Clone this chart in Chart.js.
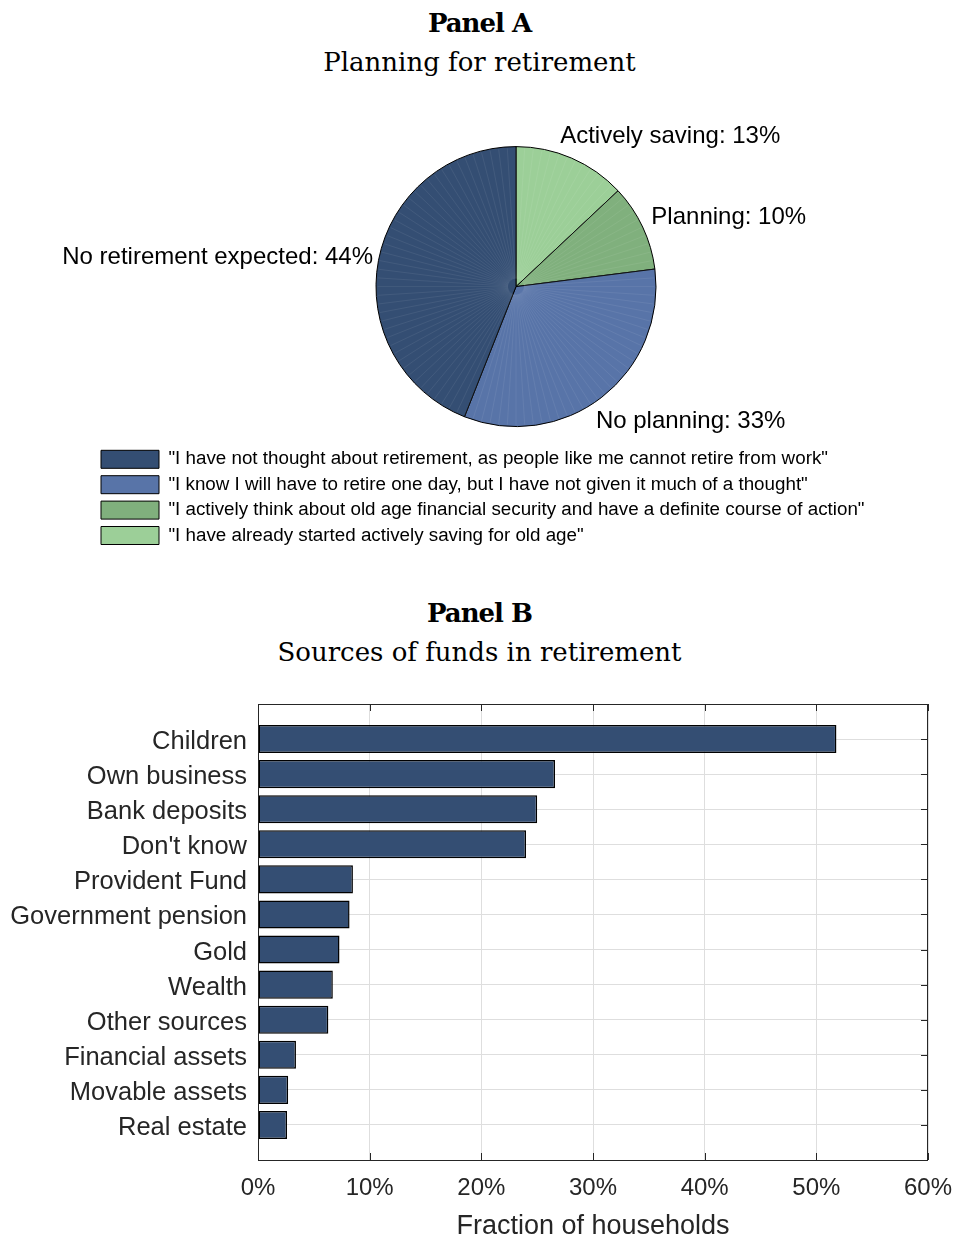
<!DOCTYPE html>
<html>
<head>
<meta charset="utf-8">
<title>Retirement planning and sources of funds</title>
<script src="https://cdn.jsdelivr.net/npm/chart.js@4.4.1/dist/chart.umd.min.js"></script>
<style>
  html, body { margin: 0; padding: 0; background: #fff; }
  body { width: 955px; height: 1240px; position: relative; overflow: hidden; }
  .hd {
    position: absolute; left: 0; width: 959px; text-align: center;
    font-family: "DejaVu Serif", serif; font-size: 26px; line-height: 30px;
    color: #000; white-space: nowrap;
  }
  .hd.b { font-weight: bold; letter-spacing: -1px; }
  #pieBox { position: absolute; left: 0; top: 85px; width: 955px; height: 485px; }
  #barBox { position: absolute; left: 0; top: 675px; width: 955px; height: 565px; }
</style>
</head>
<body>
<div class="hd b" style="top:8px">Panel A</div>
<div class="hd" style="top:47px">Planning for retirement</div>
<div id="pieBox"><canvas id="pie" width="955" height="485"></canvas></div>

<div class="hd b" style="top:598px">Panel B</div>
<div class="hd" style="top:637px">Sources of funds in retirement</div>
<div id="barBox"><canvas id="bar" width="955" height="565"></canvas></div>

<script>
// ---- Panel A: planning for retirement (clockwise from 12 o'clock) ----
const planNames = ['Actively saving', 'Planning', 'No planning', 'No retirement expected'];
const planShares = [13, 10, 33, 44];
const planStatements = [
  '"I have already started actively saving for old age"',
  '"I actively think about old age financial security and have a definite course of action"',
  '"I know I will have to retire one day, but I have not given it much of a thought"',
  '"I have not thought about retirement, as people like me cannot retire from work"'
];
const planColors = ['#9ccf98', '#80b07d', '#5874a8', '#344e73'];

// ---- Panel B: sources of funds in retirement (top to bottom) ----
const sources = ['Children', 'Own business', 'Bank deposits', "Don't know", 'Provident Fund',
  'Government pension', 'Gold', 'Wealth', 'Other sources', 'Financial assets',
  'Movable assets', 'Real estate'];
const sourceShares = [51.8, 26.6, 25.0, 24.0, 8.5, 8.2, 7.3, 6.7, 6.3, 3.4, 2.7, 2.6];
const shareTicks = [0, 10, 20, 30, 40, 50, 60];

// label placement tweaks around each slice's outer anchor point
const sliceLabelNudge = [[-17, -2.5], [-4, 3], [-14.5, 19.8], [8.3, 6.7]];

Chart.defaults.font.family = '"Liberation Sans", Arial, Helvetica, sans-serif';
Chart.defaults.color = '#262626';

// faint radial shading across the pie
const pieRays = {
  id: 'pieRays',
  afterDatasetsDraw(chart) {
    const arc = chart.getDatasetMeta(0).data[0];
    if (!arc) return;
    const { x, y, outerRadius } = arc.getProps(['x', 'y', 'outerRadius'], true);
    const ctx = chart.ctx;
    ctx.save();
    ctx.strokeStyle = 'rgba(255,255,255,0.12)';
    ctx.lineWidth = 0.6;
    ctx.beginPath();
    for (let a = 0; a < 360; a += 3.6) {
      const t = a * Math.PI / 180;
      ctx.moveTo(x + Math.cos(t) * 8, y + Math.sin(t) * 8);
      ctx.lineTo(x + Math.cos(t) * (outerRadius - 1.5), y + Math.sin(t) * (outerRadius - 1.5));
    }
    ctx.stroke();
    ctx.restore();
  }
};

// "Name: NN%" text beside each slice
const sliceLabels = {
  id: 'sliceLabels',
  afterDatasetsDraw(chart) {
    const ctx = chart.ctx;
    const arcs = chart.getDatasetMeta(0).data;
    ctx.save();
    ctx.font = '24px "Liberation Sans", Arial, sans-serif';
    ctx.fillStyle = '#000';
    ctx.textBaseline = 'alphabetic';
    arcs.forEach((arc, i) => {
      const { x, y, startAngle, endAngle, outerRadius } =
        arc.getProps(['x', 'y', 'startAngle', 'endAngle', 'outerRadius'], true);
      const mid = (startAngle + endAngle) / 2;
      const r = outerRadius * 1.1;
      const ax = x + Math.cos(mid) * r;
      const ay = y + Math.sin(mid) * r;
      const n = sliceLabelNudge[i];
      ctx.textAlign = Math.cos(mid) >= 0 ? 'left' : 'right';
      ctx.fillText(planNames[i] + ': ' + planShares[i] + '%', ax + n[0], ay + n[1]);
    });
    ctx.restore();
  }
};

new Chart(document.getElementById('pie'), {
  type: 'pie',
  data: {
    labels: planStatements,
    datasets: [{
      data: planShares,
      backgroundColor: planColors,
      borderColor: '#000',
      borderWidth: 1,
      radius: 140
    }]
  },
  options: {
    responsive: false,
    animation: false,
    events: [],
    layout: { padding: { left: 94.4, right: 17.4, top: 44.9, bottom: 15.1 } },
    plugins: {
      tooltip: { enabled: false },
      legend: {
        position: 'bottom',
        align: 'start',
        reverse: true,
        labels: {
          boxWidth: 58,
          boxHeight: 18,
          padding: 6.6,
          color: '#000',
          font: { size: 18.8 }
        }
      }
    }
  },
  plugins: [pieRays, sliceLabels]
});

// inward tick marks (under the bars) and the surrounding box (over them)
const axisTicks = {
  id: 'axisTicks',
  beforeDatasetsDraw(chart) {
    const { ctx, chartArea: a, scales: { x, y } } = chart;
    const L = 7;
    ctx.save();
    ctx.strokeStyle = '#262626';
    ctx.lineWidth = 1;
    ctx.beginPath();
    x.ticks.forEach(t => {
      const px = Math.round(x.getPixelForValue(t.value)) + 0.5;
      ctx.moveTo(px, a.top); ctx.lineTo(px, a.top + L);
      ctx.moveTo(px, a.bottom); ctx.lineTo(px, a.bottom - L);
    });
    y.ticks.forEach(t => {
      const py = Math.round(y.getPixelForValue(t.value)) + 0.5;
      ctx.moveTo(a.left, py); ctx.lineTo(a.left + L, py);
      ctx.moveTo(a.right, py); ctx.lineTo(a.right - L, py);
    });
    ctx.stroke();
    ctx.restore();
  },
  afterDatasetsDraw(chart) {
    const { ctx, chartArea: a } = chart;
    ctx.save();
    ctx.strokeStyle = '#262626';
    ctx.lineWidth = 1;
    ctx.strokeRect(Math.round(a.left) + 0.5, Math.round(a.top) + 0.5,
      Math.round(a.right - a.left) - 1, Math.round(a.bottom - a.top));
    ctx.restore();
  }
};

new Chart(document.getElementById('bar'), {
  type: 'bar',
  data: {
    datasets: [{
      data: sourceShares.map((v, i) => ({ x: v, y: i + 1 })),
      backgroundColor: '#344e73',
      borderColor: '#000',
      borderWidth: 1.5,
      borderSkipped: false,
      barPercentage: 0.8,
      categoryPercentage: 1
    }]
  },
  options: {
    indexAxis: 'y',
    responsive: false,
    animation: false,
    events: [],
    layout: { padding: { left: 4, right: 27, top: 29, bottom: 0 } },
    plugins: { legend: { display: false }, tooltip: { enabled: false } },
    scales: {
      x: {
        type: 'linear',
        position: 'bottom',
        min: shareTicks[0],
        max: shareTicks[shareTicks.length - 1],
        afterBuildTicks: s => { s.ticks = shareTicks.map(v => ({ value: v })); },
        afterFit: s => { s.height = 80; s.paddingLeft = 0; s.paddingRight = 0; },
        ticks: {
          callback: v => v + '%',
          font: { size: 24 },
          color: '#262626',
          padding: 14,
          maxRotation: 0
        },
        grid: { color: '#dedede', drawTicks: false, offset: false },
        border: { display: false },
        title: {
          display: true,
          text: 'Fraction of households',
          font: { size: 27, lineHeight: 1 },
          color: '#262626',
          padding: { top: 0, bottom: 0 }
        }
      },
      y: {
        type: 'linear',
        reverse: true,
        offset: false,
        min: 0,
        max: sources.length + 1,
        afterBuildTicks: s => { s.ticks = sources.map((_, i) => ({ value: i + 1 })); },
        afterFit: s => { s.width = 254; s.paddingTop = 0; s.paddingBottom = 0; },
        ticks: {
          callback: v => sources[v - 1],
          font: { size: 25.5 },
          color: '#262626',
          padding: 11,
          labelOffset: 3,
          autoSkip: false
        },
        grid: { color: '#dedede', drawTicks: false, offset: false },
        border: { display: false }
      }
    }
  },
  plugins: [axisTicks]
});
</script>
</body>
</html>
